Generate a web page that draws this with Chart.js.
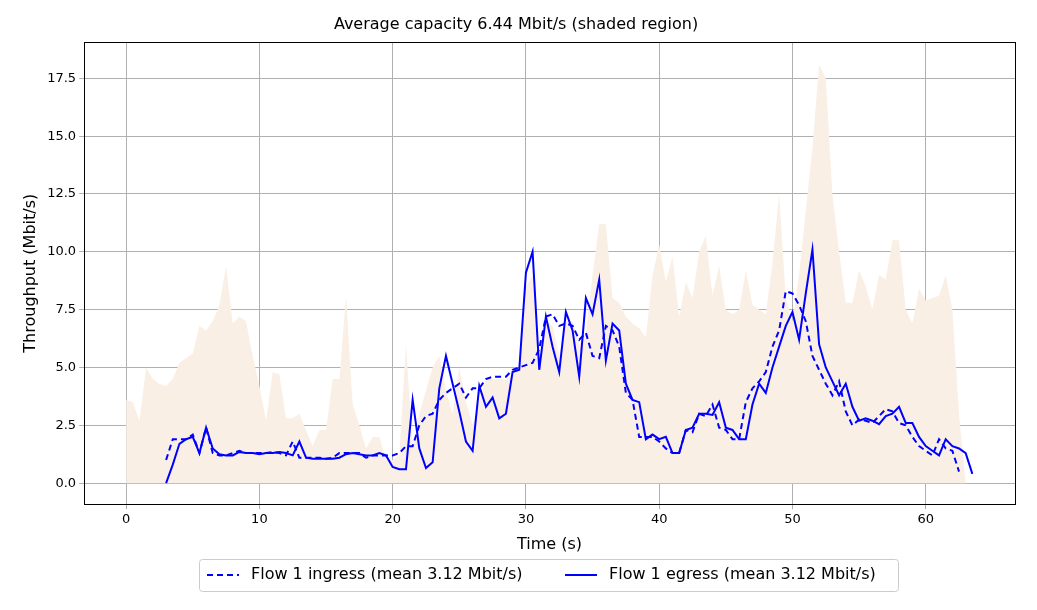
<!DOCTYPE html>
<html><head><meta charset="utf-8">
<script src="https://cdn.jsdelivr.net/npm/chart.js@4"></script>
<style>body{margin:0;background:#fff}#wrap{width:1037px;height:610px}</style>
</head><body><div id="wrap"><canvas id="c"></canvas></div>
<script>
// capacity every 0.5 s from t=0
const capacidade = [3.6,3.5,2.7,5.0,4.5,4.3,4.2,4.5,5.2,5.4,5.6,6.8,6.6,7.0,7.7,9.4,6.9,7.2,7.0,5.5,4.2,2.7,4.8,4.7,2.8,2.8,3.0,2.3,1.6,2.3,2.3,4.5,4.5,8.1,3.4,2.5,1.5,2.0,2.0,1.0,1.0,1.2,6.0,1.5,3.0,4.0,5.0,5.5,4.0,3.0,5.0,3.5,2.5,3.5,4.5,4.5,4.5,4.5,4.6,5.0,8.5,9.0,5.5,7.0,6.8,5.5,7.0,7.0,6.0,6.5,9.0,11.2,11.2,8.0,7.8,7.2,6.9,6.7,6.3,9.0,10.3,8.7,9.8,7.2,8.7,8.0,10.0,10.7,8.1,9.4,7.5,7.3,7.5,9.2,7.7,7.5,7.3,9.5,12.5,8.0,7.0,9.0,11.8,14.5,18.1,17.5,12.5,10.0,7.8,7.8,9.2,8.5,7.5,9.0,8.8,10.5,10.5,7.5,6.9,8.4,7.9,8.0,8.1,9.0,7.5,3.0,0];
// flows every 0.5 s from t=3
const ingresso = [1.0,1.9,1.9,1.9,2.1,1.3,2.4,1.3,1.2,1.2,1.3,1.4,1.3,1.3,1.3,1.3,1.35,1.3,1.2,1.8,1.1,1.1,1.1,1.1,1.05,1.1,1.3,1.3,1.3,1.3,1.1,1.2,1.2,1.2,1.2,1.3,1.6,1.6,2.5,2.9,3.0,3.6,3.9,4.1,4.3,3.7,4.1,4.1,4.5,4.6,4.6,4.6,4.9,5.0,5.1,5.2,5.8,7.2,7.3,6.8,6.9,6.8,6.2,6.5,5.5,5.4,6.8,6.6,5.9,3.9,3.6,2.0,2.0,2.0,1.8,1.5,1.3,1.3,2.3,2.2,3.0,2.9,3.4,2.4,2.3,1.9,1.9,3.5,4.1,4.4,4.8,5.9,6.6,8.3,8.2,7.7,7.0,5.5,4.9,4.3,3.8,4.4,3.1,2.5,2.75,2.7,2.6,2.9,3.2,3.1,2.6,2.5,2.0,1.6,1.4,1.2,1.9,1.5,1.4,0.5];
const egresso = [0,0.8,1.7,1.9,2.0,1.3,2.4,1.5,1.25,1.2,1.2,1.35,1.3,1.3,1.25,1.3,1.3,1.35,1.3,1.2,1.8,1.1,1.05,1.05,1.05,1.05,1.1,1.25,1.3,1.25,1.2,1.2,1.3,1.2,0.7,0.6,0.6,3.6,1.5,0.65,0.9,4.1,5.5,4.3,3.1,1.8,1.4,4.2,3.3,3.7,2.8,3.0,4.8,4.9,9.1,10.0,4.9,7.2,5.9,4.8,7.4,6.6,4.6,8.0,7.3,8.8,5.3,6.9,6.6,4.3,3.6,3.5,1.9,2.1,1.9,2.0,1.3,1.3,2.3,2.4,3.0,3.0,2.95,3.5,2.4,2.3,1.9,1.9,3.4,4.3,3.9,5.0,5.9,6.8,7.4,6.2,8.2,10.1,6.0,5.0,4.4,3.8,4.3,3.3,2.7,2.8,2.7,2.55,2.9,3.0,3.3,2.6,2.6,2.0,1.6,1.4,1.2,1.9,1.6,1.5,1.3,0.4];
const xTicks = [0,10,20,30,40,50,60];
const yTicks = [0,2.5,5,7.5,10,12.5,15,17.5];

const pts = (arr, t0) => arr.map((v, i) => ({x: t0 + i * 0.5, y: v}));

const legenda = {
  id: 'legenda',
  afterDraw(chart) {
    const ctx = chart.ctx;
    const a = chart.chartArea;
    ctx.save();
    // frame around plot
    ctx.strokeStyle = '#000'; ctx.lineWidth = 1;
    ctx.strokeRect(Math.round(a.left) + 0.5, Math.round(a.top) + 0.5, Math.round(a.right - a.left), Math.round(a.bottom - a.top));
    ctx.font = '16px "DejaVu Sans"';
    const x0 = 199, y0 = 559, w = 699, h = 32;
    ctx.strokeStyle = '#cccccc';
    ctx.beginPath(); ctx.roundRect(x0 + 0.5, y0 + 0.5, w, h, 3); ctx.stroke();
    const items = [
      {t: 'Flow 1 ingress (mean 3.12 Mbit/s)', d: [6, 4], x: x0 + 8},
      {t: 'Flow 1 egress (mean 3.12 Mbit/s)', d: [], x: x0 + 366}
    ];
    ctx.strokeStyle = '#0000ff'; ctx.lineWidth = 2; ctx.fillStyle = '#000';
    ctx.textBaseline = 'middle';
    for (const it of items) {
      ctx.setLineDash(it.d);
      ctx.beginPath(); ctx.moveTo(it.x, y0 + 16); ctx.lineTo(it.x + 32, y0 + 16); ctx.stroke();
      ctx.fillText(it.t, it.x + 44, y0 + 16);
    }
    ctx.restore();
  }
};

new Chart(document.getElementById('c'), {
  type: 'line',
  data: {
    datasets: [
      {data: pts(capacidade, 0), order: 3, borderWidth: 0, backgroundColor: '#faefe5', fill: 'origin', pointRadius: 0, tension: 0},
      {data: pts(ingresso, 3), order: 1, borderColor: '#0000ff', borderWidth: 2, borderDash: [6, 4], pointRadius: 0, fill: false, tension: 0},
      {data: pts(egresso, 3), order: 0, borderColor: '#0000ff', borderWidth: 2, pointRadius: 0, fill: false, tension: 0}
    ]
  },
  options: {
    responsive: true,
    maintainAspectRatio: false,
    animation: false,
    layout: {padding: {left: 17, right: 22, top: 15, bottom: 52}},
    plugins: {
      legend: {display: false},
      tooltip: {enabled: false},
      title: {display: true, text: 'Average capacity 6.44 Mbit/s (shaded region)', color: '#000',
        font: {family: 'DejaVu Sans', size: 16, weight: 'normal'}, padding: {top: 0, bottom: 8}}
    },
    scales: {
      x: {
        type: 'linear', min: -3.15, max: 66.7,
        afterBuildTicks: s => { s.ticks = xTicks.map(v => ({value: v})); },
        ticks: {color: '#000', font: {family: 'DejaVu Sans', size: 13}, callback: v => v},
        grid: {color: '#b0b0b0', tickLength: 5},
        border: {color: '#000'},
        title: {display: true, text: 'Time (s)', color: '#000', font: {family: 'DejaVu Sans', size: 16}}
      },
      y: {
        min: -0.91, max: 19.06,
        afterBuildTicks: s => { s.ticks = yTicks.map(v => ({value: v})); },
        ticks: {color: '#000', font: {family: 'DejaVu Sans', size: 13}, callback: v => v.toFixed(1)},
        grid: {color: '#b0b0b0', tickLength: 5},
        border: {color: '#000'},
        title: {display: true, text: 'Throughput (Mbit/s)', color: '#000', font: {family: 'DejaVu Sans', size: 16}}
      }
    }
  },
  plugins: [legenda]
});
</script></body></html>
